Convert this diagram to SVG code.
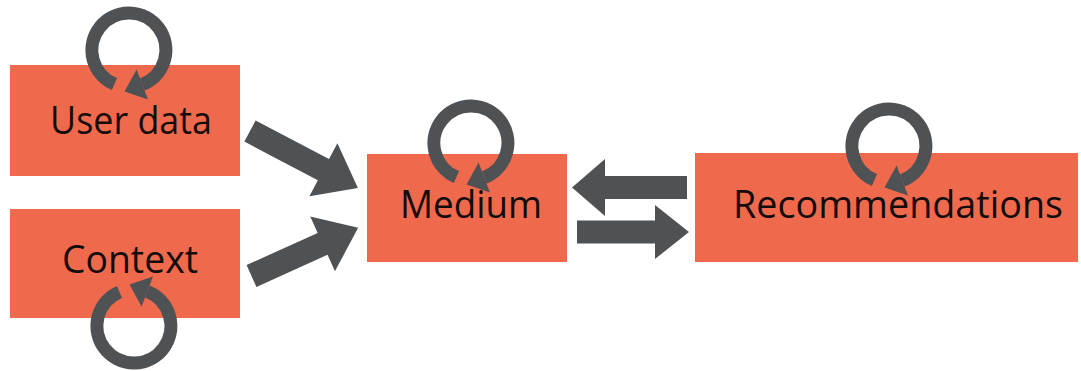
<svg xmlns="http://www.w3.org/2000/svg" width="1081" height="371" viewBox="0 0 1081 371">
  <style>
    .box { fill: #ef6a4d; }
    .label { font-family: "Open Sans", "Noto Sans", "Liberation Sans", sans-serif; font-size: 38px; fill: #140c0c; }
    .dark { fill: #4f5254; }
    .ring { fill: none; stroke: #4f5254; stroke-width: 13; }
  </style>
  <defs>
    <!-- circular self-loop arrow, centred on the origin, running clockwise -->
    <g id="loop">
      <path class="ring" d="M -14.5 34.1 A 37 37 0 1 1 13.3 34.5"/>
      <polygon class="dark" points="7.6,19.6 19,49.4 -4.5,41.5"/>
    </g>
  </defs>

  <rect width="1081" height="371" fill="#ffffff"/>

  <g id="connectors">
    <!-- User data -> Medium -->
    <polygon class="dark" transform="translate(250,131) rotate(27.8)" points="0,-12 83,-12 83,-30 122,0 83,30 83,12 0,12"/>
    <!-- Context -> Medium -->
    <polygon class="dark" transform="translate(251.5,276) rotate(-24.3)" points="0,-12 78,-12 78,-30 117,0 78,30 78,12 0,12"/>
    <!-- Recommendations -> Medium -->
    <polygon class="dark" points="687,176 605,176 605,159 572,187.5 605,216 605,199 687,199"/>
    <!-- Medium -> Recommendations -->
    <polygon class="dark" points="577,220.5 655,220.5 655,205 689,232 655,259 655,243.5 577,243.5"/>
  </g>

  <g id="user-data">
    <rect class="box" x="10" y="65" width="230" height="111"/>
    <use href="#loop" transform="translate(129,50)"/>
    <text class="label" x="50" y="134" textLength="162" lengthAdjust="spacingAndGlyphs">User data</text>
  </g>

  <g id="context">
    <rect class="box" x="10" y="209" width="230" height="109"/>
    <use href="#loop" transform="translate(134,326) scale(1,-1)"/>
    <text class="label" x="62" y="273" textLength="136" lengthAdjust="spacingAndGlyphs">Context</text>
  </g>

  <g id="medium">
    <rect class="box" x="367" y="154" width="200" height="108"/>
    <use href="#loop" transform="translate(471,143)"/>
    <text class="label" x="400" y="218" textLength="142" lengthAdjust="spacingAndGlyphs">Medium</text>
  </g>

  <g id="recommendations">
    <rect class="box" x="695" y="153" width="383" height="109"/>
    <use href="#loop" transform="translate(889,146)"/>
    <text class="label" x="733" y="218" textLength="330" lengthAdjust="spacingAndGlyphs">Recommendations</text>
  </g>
</svg>
